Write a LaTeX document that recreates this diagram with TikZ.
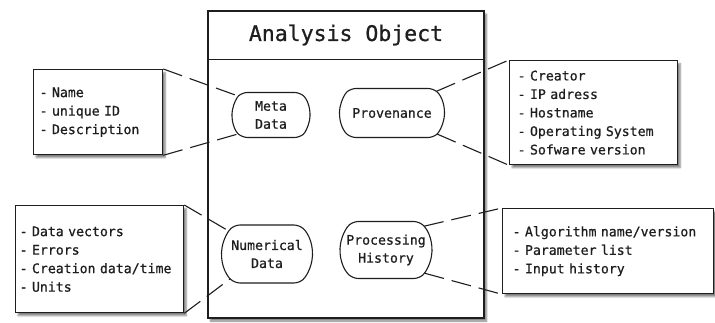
\documentclass[tikz,border=0pt]{standalone}
\usepackage{fontspec}
\setmonofont{DejaVu Sans Mono}[BoldFont=DejaVu Sans Mono, BoldFeatures={FakeBold=0.7}]
\usetikzlibrary{shapes.misc,shadows.blur}
\definecolor{ink}{HTML}{1E1E1E}
\begin{document}
\begin{tikzpicture}[x=1pt,y=-1pt,
  font=\ttfamily\bfseries\fontsize{13.2}{18.5}\selectfont, text=ink,
  shad/.style={blur shadow={shadow xshift=2.5pt, shadow yshift=-3pt, shadow blur steps=6, shadow opacity=50}},
  listbox/.style={draw=ink, line width=1.3pt, fill=white, rectangle, align=left, inner ysep=0pt, shad},
  blob/.style={draw=ink, line width=1.1pt, fill=white, rounded rectangle, rounded rectangle arc length=100, rounded corners=5pt, align=center, inner sep=0pt},
  conn/.style={draw=ink, line width=1.1pt, dash pattern=on 20pt off 8pt}]
\useasboundingbox (0,0) rectangle (715,323);
% main object
\node[draw=ink, line width=1.4pt, fill=white, minimum width=276pt, minimum height=307pt, inner sep=0pt, shad] (main) at (346,164.5) {};
\node[minimum width=276pt, minimum height=49pt, inner sep=0pt, anchor=north, font=\ttfamily\bfseries\fontsize{21.5}{24}\selectfont] (title) at (main.north) {Analysis Object};
\draw[draw=ink, line width=1.4pt] (title.south west) -- (title.south east);
% inner nodes
\node[blob, minimum width=78pt, minimum height=45pt] (meta) at (271,115) {Meta\\[-0.5pt]Data};
\node[blob, minimum width=105pt, minimum height=49pt] (prov) at (392,113) {Provenance};
\node[blob, minimum width=91pt, minimum height=58pt] (num) at (267,254) {Numerical\\[-0.5pt]Data};
\node[blob, minimum width=92pt, minimum height=57pt] (proc) at (386,250) {Processing\\[-0.5pt]History};
% list boxes
\node[listbox, anchor=north west, text width=117pt, inner xsep=6pt, minimum height=85pt] (metabox) at (33,69)
  {- Name\\- unique ID\\- Description};
\node[listbox, anchor=north west, text width=152pt, inner xsep=8pt, minimum height=104pt] (provbox) at (509,60)
  {- Creator\\- IP adress\\- Hostname\\- Operating System\\- Sofware version};
\node[listbox, anchor=north west, text width=160pt, inner xsep=4pt, minimum height=107pt] (numbox) at (15,205)
  {- Data vectors\\- Errors\\- Creation data/time\\- Units};
\node[listbox, anchor=north west, text width=191pt, inner xsep=10pt, minimum height=85pt] (procbox) at (502,208)
  {- Algorithm name/version\\- Parameter list\\- Input history};
% connectors
\draw[conn] (metabox.north east) -- (meta.150);
\draw[conn] (metabox.south east) -- (meta.210);
\draw[conn] (prov.26) -- (provbox.north west);
\draw[conn] (prov.335) -- (provbox.south west);
\draw[conn] (numbox.north east) -- (num.149);
\draw[conn] (numbox.south east) -- (num.214);
\draw[conn] (proc.32) -- (procbox.north west);
\draw[conn] (proc.329) -- (procbox.south west);
\end{tikzpicture}
\end{document}
